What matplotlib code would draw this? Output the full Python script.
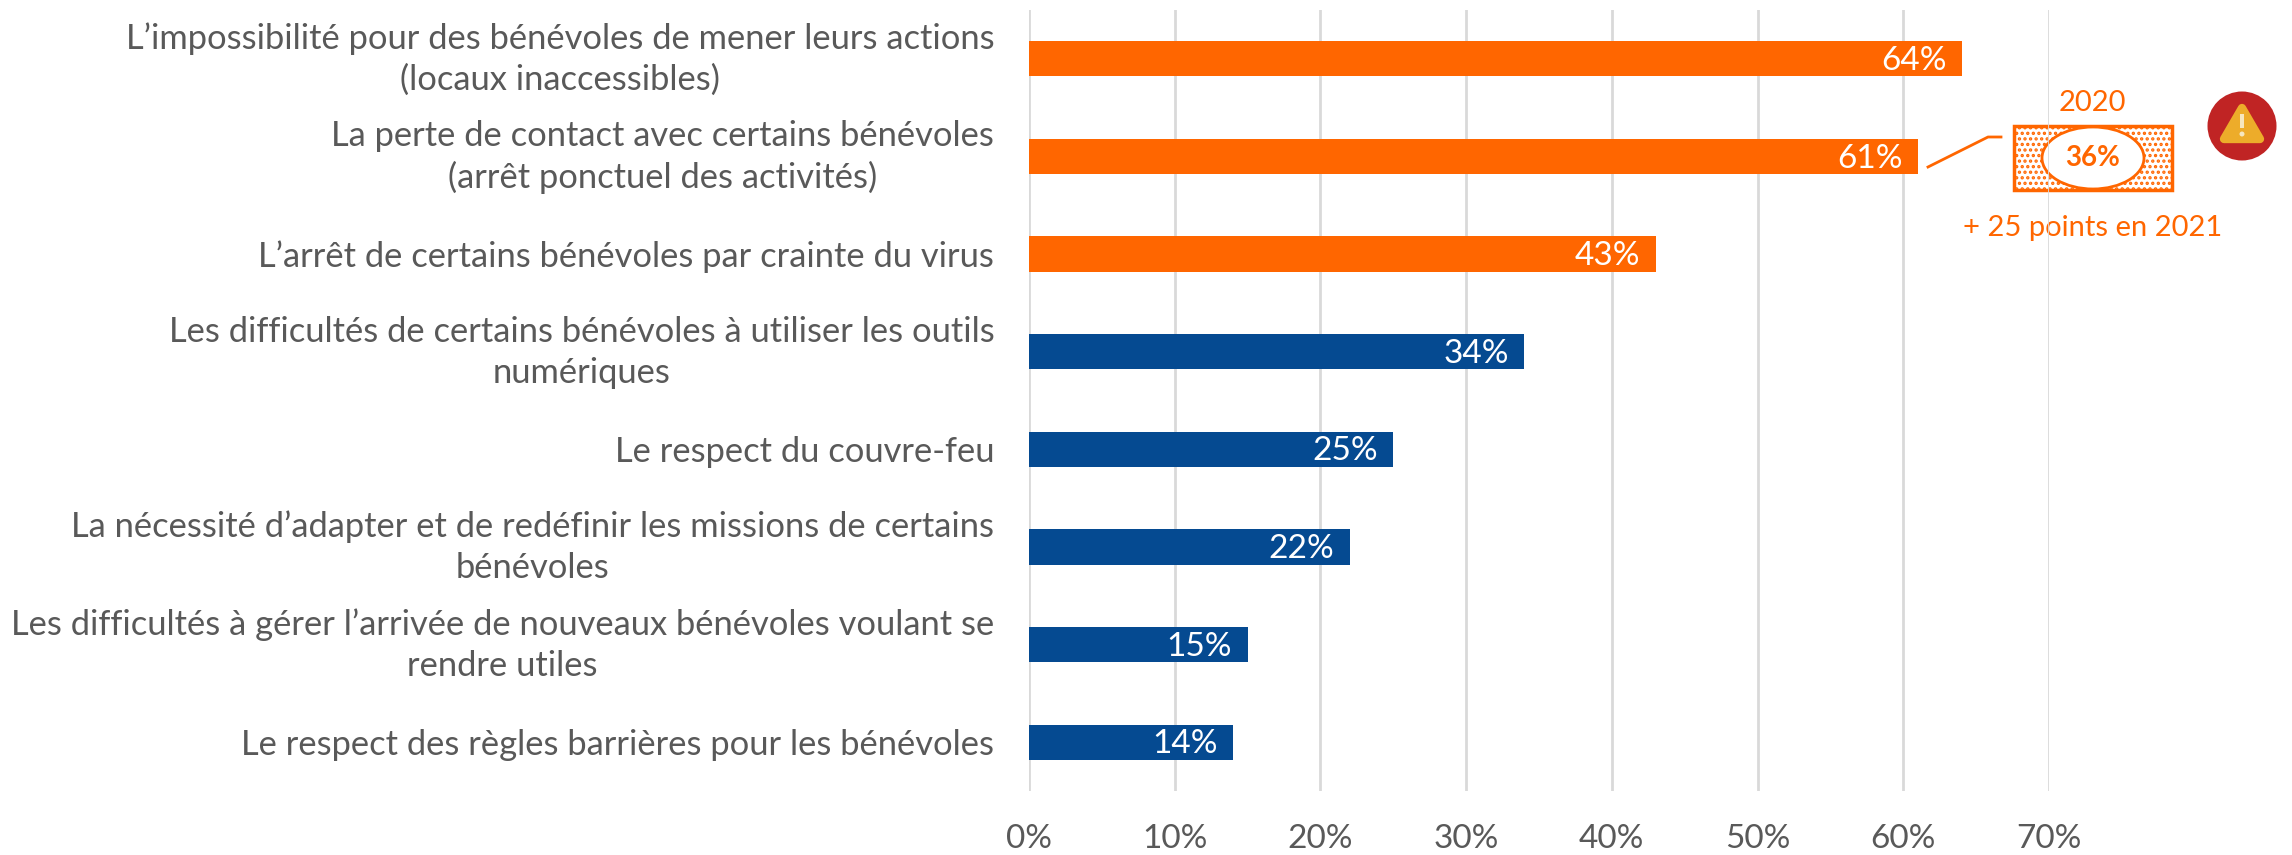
import matplotlib
matplotlib.use("Agg")
import matplotlib.pyplot as plt
from matplotlib.patches import Rectangle, Ellipse, Circle, Polygon
from matplotlib.transforms import ScaledTranslation

labels = [
	"L’impossibilité pour des bénévoles de mener leurs actions\n(locaux inaccessibles)",
	"La perte de contact avec certains bénévoles\n(arrêt ponctuel des activités)",
	"L’arrêt de certains bénévoles par crainte du virus",
	"Les difficultés de certains bénévoles à utiliser les outils\nnumériques",
	"Le respect du couvre-feu",
	"La nécessité d’adapter et de redéfinir les missions de certains\nbénévoles",
	"Les difficultés à gérer l’arrivée de nouveaux bénévoles voulant se\nrendre utiles",
	"Le respect des règles barrières pour les bénévoles",
]
values = [64, 61, 43, 34, 25, 22, 15, 14]
colors = ["#FF6600", "#FF6600", "#FF6600", "#054A91", "#054A91", "#054A91", "#054A91", "#054A91"]
x_ticks = [0, 10, 20, 30, 40, 50, 60, 70]
value_2020 = 36

GRAY = "#595959"
ORANGE = "#FF6600"
W, H = 2292, 855
FONT = "Lato"
SIZE = 24.8

plt.rcParams["font.family"] = FONT
plt.rcParams["hatch.linewidth"] = 1.6

fig = plt.figure(figsize=(W / 100, H / 100), dpi=100)

# callout layer in pixel coordinates, sits below the chart so the gridline crosses it
over = fig.add_axes([0, 0, 1, 1], zorder=1)
over.set_xlim(0, W)
over.set_ylim(H, 0)
over.axis("off")

ax = fig.add_axes([1029 / W, 1 - 791 / H, 1020 / W, 781 / H], zorder=2)
ax.patch.set_alpha(0)

y_pos = list(range(len(values)))
ax.barh(y_pos, values, height=0.36, color=colors, zorder=3)
for y, v in zip(y_pos, values):
	ax.annotate(f"{v}%", (v, y), xytext=(-11, -1.5), textcoords="offset points",
		ha="right", va="center", color="white", fontsize=24, zorder=4)

ax.set_xlim(0, 70)
ax.set_ylim(len(values) - 0.5, -0.5)
ax.set_yticks(y_pos)
ax.set_yticklabels(labels, multialignment="center", linespacing=1.34)
ax.set_xticks(x_ticks)
ax.set_xticklabels([f"{t}%" for t in x_ticks])
ax.tick_params(axis="y", length=0, labelsize=SIZE, labelcolor=GRAY, pad=25)
ax.tick_params(axis="x", length=0, labelsize=24, labelcolor=GRAY, pad=24)
ax.xaxis.grid(True, color="#D9D9D9", linewidth=2.0, zorder=0)
ax.set_axisbelow(True)
for s in ax.spines.values():
	s.set_visible(False)

# the two line labels sit a little higher than their bars
for lab in ax.get_yticklabels():
	if "\n" in lab.get_text():
		lab.set_transform(lab.get_transform() + ScaledTranslation(0, 5 / 72, fig.dpi_scale_trans))

# 2020 callout
over.plot([1928, 1988, 2001], [167, 137, 137], color=ORANGE, lw=2.0, solid_joinstyle="round")
over.add_patch(Rectangle((2014, 126), 158, 64, facecolor="white", edgecolor=ORANGE, hatch="...", lw=2.5))
over.add_patch(Ellipse((2093, 158), 102, 62, facecolor="white", edgecolor=ORANGE, lw=2.0))
over.text(2093, 158, f"{value_2020}%", color=ORANGE, fontsize=20, fontweight="bold", ha="center", va="center")
over.text(2092, 103, "2020", color=ORANGE, fontsize=21, ha="center", va="center")
over.text(2093, 228, "+ 25 points en 2021", color=ORANGE, fontsize=21, ha="center", va="center")

# warning icon
over.add_patch(Circle((2242, 126), 34.5, facecolor="#C02424", edgecolor="none"))
over.add_patch(Polygon([(2242, 108), (2224, 139), (2260, 139)], closed=True, facecolor="#EDAC2A",
	edgecolor="#EDAC2A", lw=6, joinstyle="round"))
over.add_patch(Rectangle((2240, 114), 4, 14, facecolor="#F6E7C0", edgecolor="none"))
over.add_patch(Circle((2242, 134), 2.5, facecolor="#F6E7C0", edgecolor="none"))

fig.savefig("out.png", dpi=100)
